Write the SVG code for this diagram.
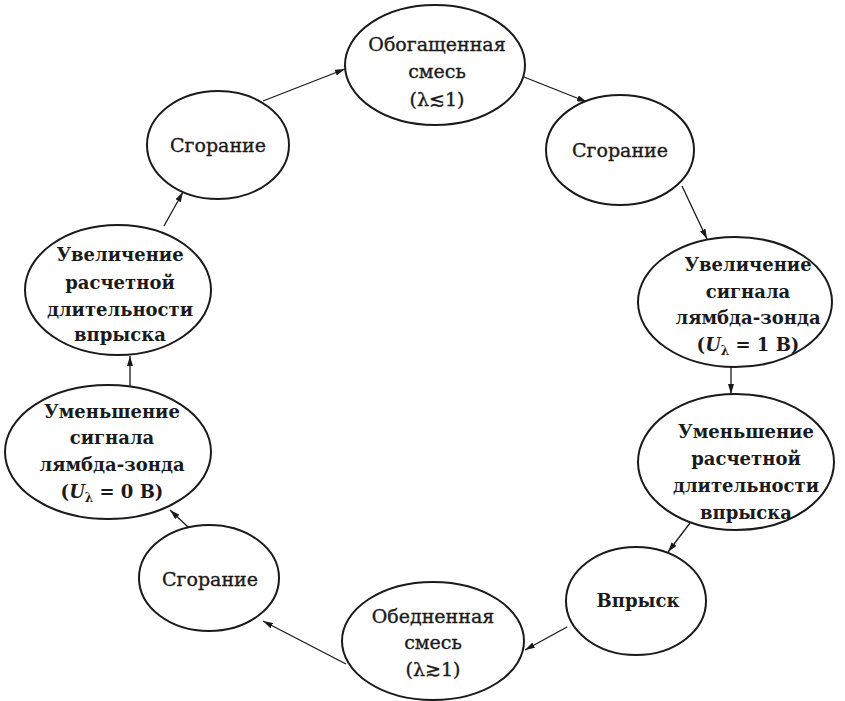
<svg xmlns="http://www.w3.org/2000/svg" width="845" height="701" viewBox="0 0 845 701">
<defs>
<marker id="ah" viewBox="0 0 10 6" refX="10" refY="3" markerWidth="10" markerHeight="6" markerUnits="userSpaceOnUse" orient="auto">
<path d="M0,0 L10,3 L0,6 z" fill="#1a1a1a"/>
</marker>
<style>
.n ellipse{fill:#fff;stroke:#1a1a1a;stroke-width:2}
.n text{font-family:"DejaVu Serif","Liberation Serif",serif;font-size:19px;fill:#1a1a1a;text-anchor:middle;stroke:#1a1a1a;stroke-width:0.35}
.b text{font-weight:bold;font-size:18px;stroke-width:0}
.c path{fill:none;stroke:#1a1a1a;stroke-width:1.3;marker-end:url(#ah)}
.i{font-style:italic}
.s{font-size:12px}
</style>
</defs>
<rect width="845" height="701" fill="#fff"/>
<g class="c" id="connectors">
<path d="M263,101 L345,69"/>
<path d="M524,77 L587,102"/>
<path d="M682,186 L707,239"/>
<path d="M731,367 L731,394"/>
<path d="M690,523 L668,552"/>
<path d="M567,627 L525,650"/>
<path d="M346,664 L263,621"/>
<path d="M188,527 L170,510"/>
<path d="M130,386 L130,356"/>
<path d="M164,226 L183,192"/>
</g>
<g class="n" id="n1"><ellipse cx="435" cy="65" rx="90" ry="60"/>
<text x="437" y="51">Обогащенная</text><text x="437" y="78">смесь</text><text x="437" y="106">(λ≲1)</text></g>
<g class="n" id="n2"><ellipse cx="620" cy="150" rx="74" ry="55"/>
<text x="620" y="157">Сгорание</text></g>
<g class="n b" id="n3"><ellipse cx="735" cy="302" rx="97" ry="65"/>
<text x="748" y="271">Увеличение</text><text x="748" y="298">сигнала</text><text x="748" y="324">лямбда-зонда</text><text x="748" y="351">(<tspan class="i">U</tspan><tspan class="s" dy="4">λ</tspan><tspan dy="-4"> = 1 В)</tspan></text></g>
<g class="n b" id="n4"><ellipse cx="736" cy="462" rx="98" ry="68"/>
<text x="746" y="438">Уменьшение</text><text x="746" y="465">расчетной</text><text x="746" y="492">длительности</text><text x="746" y="519">впрыска</text></g>
<g class="n b" id="n5"><ellipse cx="636" cy="601" rx="70" ry="54"/>
<text x="638" y="607">Впрыск</text></g>
<g class="n" id="n6"><ellipse cx="433" cy="641" rx="91" ry="59"/>
<text x="433" y="623">Обедненная</text><text x="433" y="649">смесь</text><text x="433" y="676">(λ≳1)</text></g>
<g class="n" id="n7"><ellipse cx="209" cy="578" rx="70" ry="53"/>
<text x="210" y="586">Сгорание</text></g>
<g class="n b" id="n8"><ellipse cx="108" cy="452" rx="103" ry="67"/>
<text x="112" y="418">Уменьшение</text><text x="112" y="444">сигнала</text><text x="112" y="471">лямбда-зонда</text><text x="112" y="498">(<tspan class="i">U</tspan><tspan class="s" dy="4">λ</tspan><tspan dy="-4"> = 0 В)</tspan></text></g>
<g class="n b" id="n9"><ellipse cx="118" cy="290" rx="93" ry="65"/>
<text x="120" y="261">Увеличение</text><text x="120" y="289">расчетной</text><text x="120" y="316">длительности</text><text x="120" y="341">впрыска</text></g>
<g class="n" id="n10"><ellipse cx="218" cy="145" rx="71" ry="54"/>
<text x="218" y="152">Сгорание</text></g>
</svg>
